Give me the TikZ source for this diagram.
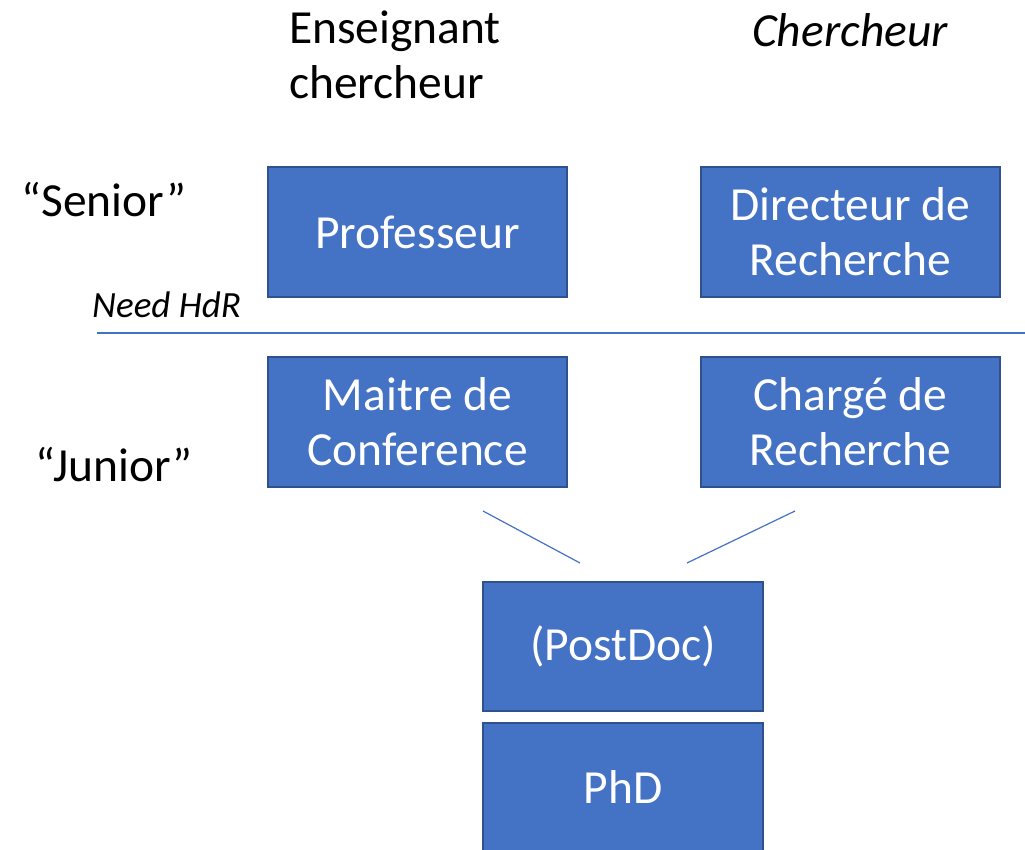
\documentclass[tikz,border=0pt]{standalone}
\usepackage{fontspec}
\setmainfont{Carlito}
\definecolor{boxfill}{HTML}{4472C4}
\definecolor{boxedge}{HTML}{2F528F}
\begin{document}
\begin{tikzpicture}[x=1pt,y=-1pt,
  rolebox/.style={draw=boxedge,line width=2pt,fill=boxfill,text=white,
    minimum width=299pt,minimum height=130pt,inner sep=0pt,align=center,
    font=\fontsize{47.5}{55}\selectfont},
  label/.style={inner sep=0pt,font=\fontsize{47.5}{55}\selectfont},
  link/.style={draw=boxfill,line width=1.2pt}]
\useasboundingbox (0,0) rectangle (1025,850);
\node[rolebox] (prof) at (417.5,232) {\raisebox{-3pt}{Professeur}};
\node[rolebox] (dir) at (850.5,232) {Directeur de\\Recherche};
\node[rolebox] (mdc) at (417.5,422) {Maitre de\\Conference};
\node[rolebox] (cr) at (850.5,422) {Chargé de\\Recherche};
\node[rolebox,minimum width=280pt,minimum height=129pt] (pd) at (623,646.5) {\raisebox{-3pt}{(PostDoc)}};
\node[rolebox,minimum width=280pt,minimum height=129pt] (phd) at (623,787.5) {\raisebox{-3pt}{PhD}};
\node[label,anchor=west,align=left] (ens) at (289,55) {Enseignant\\chercheur};
\node[label,font=\fontsize{47.5}{55}\selectfont\itshape] (ch) at (850,30) {Chercheur};
\node[label] (sen) at (104,200) {“Senior”};
\node[label] (jun) at (114,465) {“Junior”};
\node[label,anchor=west,font=\fontsize{37}{42}\selectfont\itshape] (hdr) at (92,305) {Need HdR};
\coordinate (hl) at (97,333);
\coordinate (hr) at (1025,333);
\draw[link] (hl) -- (hr);
\coordinate (l1) at (483,511);
\coordinate (l2) at (580,563);
\coordinate (r1) at (795,511);
\coordinate (r2) at (687,563);
\draw[link] (l1) -- (l2);
\draw[link] (r1) -- (r2);
\end{tikzpicture}
\end{document}
